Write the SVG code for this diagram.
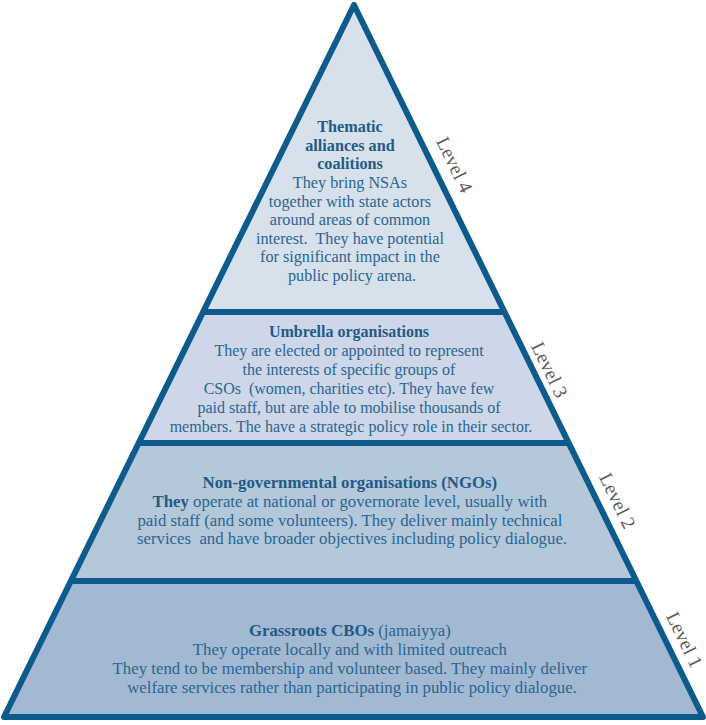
<svg xmlns="http://www.w3.org/2000/svg" width="706" height="725" viewBox="0 0 706 725">
  <style>
    .body { font-family: "Liberation Serif", "DejaVu Serif", serif; font-size: 16px; fill: #2a6592; text-anchor: middle; }
    .s4 { font-size: 16.2px; }
    .s3 { font-size: 16px; }
    .s2 { font-size: 16.8px; }
    .s1 { font-size: 16.8px; }
    .title { font-weight: bold; fill: #1f5a88; }
    .lvl { font-family: "Liberation Serif", "DejaVu Serif", serif; font-size: 19.5px; fill: #5a5a5a; text-anchor: middle; }
    .edge { fill: none; stroke: #0d5a8d; stroke-width: 6; stroke-linejoin: round; }
    .divider { stroke: #0d5a8d; stroke-width: 6; }
  </style>

  <!-- Level 4: apex band -->
  <g id="level4">
    <polygon points="354,5 504,312 203,312" fill="#d7e1eb"/>
    <text class="body s4">
      <tspan class="title" x="352" y="132">Thematic</tspan>
      <tspan class="title" x="352" y="150.5">alliances and</tspan>
      <tspan class="title" x="352" y="169">coalitions</tspan>
      <tspan x="352" y="188">They bring NSAs</tspan>
      <tspan x="352" y="206.5">together with state actors</tspan>
      <tspan x="352" y="225">around areas of common</tspan>
      <tspan x="352" y="243.5">interest.&#160; They have potential</tspan>
      <tspan x="352" y="262">for significant impact in the</tspan>
      <tspan x="352" y="280.5">public policy arena.</tspan>
    </text>
    <text class="lvl" transform="translate(454,165) rotate(64)" x="0" y="6">Level 4</text>
  </g>

  <!-- Level 3 -->
  <g id="level3">
    <polygon points="203,312 504,312 568,443 138,443" fill="#cdd7e7"/>
    <text class="body s3">
      <tspan class="title" x="351" y="337">Umbrella organisations</tspan>
      <tspan x="351" y="356">They are elected or appointed to represent</tspan>
      <tspan x="351" y="375">the interests of specific groups of</tspan>
      <tspan x="351" y="394">CSOs&#160; (women, charities etc). They have few</tspan>
      <tspan x="351" y="413">paid staff, but are able to mobilise thousands of</tspan>
      <tspan x="351" y="432">members. The have a strategic policy role in their sector.</tspan>
    </text>
    <text class="lvl" transform="translate(549,370) rotate(64)" x="0" y="6">Level 3</text>
  </g>

  <!-- Level 2 -->
  <g id="level2">
    <polygon points="138,443 568,443 635,581 71,581" fill="#b5c8d9"/>
    <text class="body s2">
      <tspan class="title" x="352" y="488">Non-governmental organisations (NGOs)</tspan>
      <tspan x="352" y="507"><tspan class="title">They</tspan> operate at national or governorate level, usually with</tspan>
      <tspan x="352" y="525.5">paid staff (and some volunteers). They deliver mainly technical</tspan>
      <tspan x="352" y="544">services&#160; and have broader objectives including policy dialogue.</tspan>
    </text>
    <text class="lvl" transform="translate(617,501) rotate(64)" x="0" y="6">Level 2</text>
  </g>

  <!-- Level 1: base band -->
  <g id="level1">
    <polygon points="71,581 635,581 703,717 4,717" fill="#a3b9d3"/>
    <text class="body s1">
      <tspan x="352" y="636"><tspan class="title">Grassroots CBOs</tspan> (jamaiyya)</tspan>
      <tspan x="352" y="655">They operate locally and with limited outreach</tspan>
      <tspan x="352" y="674">They tend to be membership and volunteer based. They mainly deliver</tspan>
      <tspan x="352" y="692.5">welfare services rather than participating in public policy dialogue.</tspan>
    </text>
    <text class="lvl" transform="translate(684,640) rotate(64)" x="0" y="6">Level 1</text>
  </g>

  <!-- band dividers and outer outline -->
  <g id="connectors">
    <line class="divider" x1="203" y1="312" x2="504" y2="312"/>
    <line class="divider" x1="138" y1="443" x2="568" y2="443"/>
    <line class="divider" x1="71" y1="581" x2="635" y2="581"/>
    <polygon class="edge" points="354,5 703,717 4,717"/>
  </g>
</svg>
